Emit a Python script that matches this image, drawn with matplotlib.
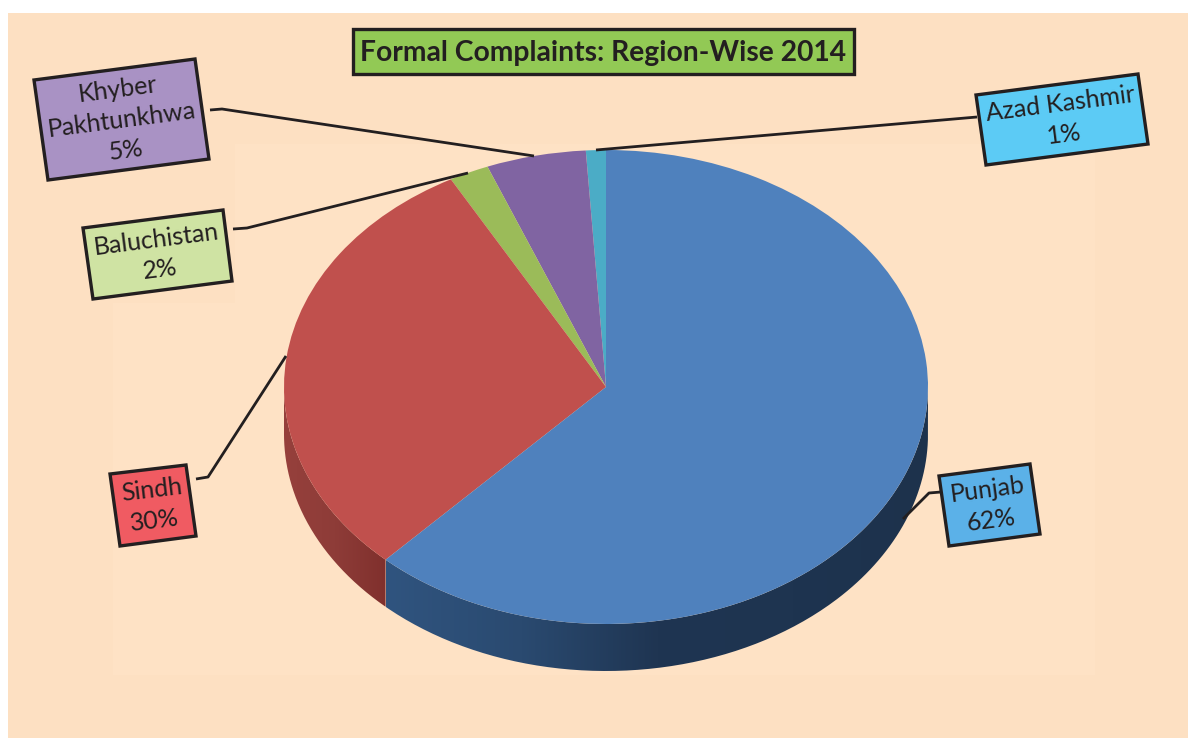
import numpy as np
import matplotlib
matplotlib.use('Agg')
import matplotlib.pyplot as plt
from matplotlib.colors import LinearSegmentedColormap
from matplotlib.path import Path
from matplotlib.patches import Polygon, Rectangle

# Data, in pie order (counter-clockwise from 12 o'clock)
regions = ['Azad Kashmir', 'Khyber\nPakhtunkhwa', 'Baluchistan', 'Sindh', 'Punjab']
shares = [1, 5, 2, 30, 62]
title = 'Formal Complaints: Region-Wise 2014'

top_colors = ['#4BACC6', '#8064A2', '#9BBB59', '#C0504D', '#4F81BD']
box_colors = ['#5CCBF5', '#A992C4', '#CFE3A3', '#F05B62', '#5BB1E8']
side_ramps = {
    'Sindh': ['#96403C', '#8E3C38', '#80302D'],
    'Punjab': ['#30547F', '#2A4A70', '#1F3552', '#1E3450', '#1D324C'],
}

W, H = 1188, 738
BG = '#FDE0C2'
BG_INNER = '#FEE2C5'
INK = '#231F20'
CX, CY, RX, RY, DEPTH = 606, 387, 322, 237, 47

# Corners of the tilted label boxes, in image pixels
box_corners = {
    'Azad Kashmir': [(976, 95), (1138, 74), (1148, 144), (986, 165)],
    'Khyber\nPakhtunkhwa': [(34, 80), (195, 59), (209, 159), (48, 180)],
    'Baluchistan': [(83, 228), (223, 210), (232, 281), (93, 299)],
    'Sindh': [(110, 474), (186, 465), (196, 536), (120, 546)],
    'Punjab': [(939, 476), (1030, 464), (1040, 534), (949, 546)],
}
leaders = {
    'Azad Kashmir': [(977, 117), (596, 150)],
    'Khyber\nPakhtunkhwa': [(210, 110), (222, 109), (534, 156)],
    'Baluchistan': [(233, 229), (247, 228), (468, 173)],
    'Sindh': [(196, 479), (208, 477), (286, 356)],
    'Punjab': [(941, 492), (929, 493), (903, 519)],
}

fig = plt.figure(figsize=(W / 100, H / 100), dpi=100, facecolor='white')

# Background, in pixel coordinates
bg = fig.add_axes([0, 0, 1, 1], zorder=0)
bg.set_xlim(0, W)
bg.set_ylim(H, 0)
bg.axis('off')
bg.add_patch(Rectangle((8, 13), W - 8, H - 13, fc=BG, ec='none'))
bg.add_patch(Rectangle((113, 303), 982, 372, fc=BG_INNER, ec='none'))
bg.add_patch(Rectangle((235, 144), 860, 160, fc=BG_INNER, ec='none'))

# Pie axes: one data unit is the ellipse radius, so the pie is squashed
ax = fig.add_axes([0, 0, 1, 1], zorder=1)
ax.patch.set_alpha(0)
wedges, _ = ax.pie(shares, colors=top_colors, startangle=90, counterclock=True,
                   wedgeprops={'linewidth': 0, 'zorder': 3})

# Extruded rim for the wedges facing the viewer
d = DEPTH / RY
for wedge, name in zip(wedges, regions):
    if name not in side_ramps:
        continue
    t1 = max(wedge.theta1 % 360, 180)
    t2 = wedge.theta2 % 360 or 360
    t2 = 360 if t2 < t1 else t2
    t = np.radians(np.linspace(t1, t2, 200))
    x, y = np.cos(t), np.sin(t)
    poly = np.vstack([np.column_stack([x, y]),
                      np.column_stack([x[::-1], y[::-1] - d])])
    cmap = LinearSegmentedColormap.from_list(name, side_ramps[name])
    grad = np.linspace(0, 1, 256).reshape(1, -1)
    im = ax.imshow(grad, cmap=cmap, aspect='auto', zorder=2,
                   extent=(x.min(), x.max(), -1 - d, 0.1))
    im.set_clip_path(Path(poly), transform=ax.transData)

ax.set_aspect('auto')
ax.set_position([0, 0, 1, 1])
ax.set_xlim(-CX / RX, (W - CX) / RX)
ax.set_ylim((CY - H) / RY, CY / RY)
ax.axis('off')

# Labels and title, in pixel coordinates
top = fig.add_axes([0, 0, 1, 1], zorder=2)
top.set_xlim(0, W)
top.set_ylim(H, 0)
top.axis('off')
top.patch.set_alpha(0)

for name, share, color in zip(regions, shares, box_colors):
    pts = np.array(box_corners[name])
    top.add_patch(Polygon(pts, closed=True, fc=color, ec=INK, lw=2.4, joinstyle='miter'))
    line = np.array(leaders[name])
    top.plot(line[:, 0], line[:, 1], color=INK, lw=2, solid_capstyle='butt')
    angle = np.degrees(np.arctan2(pts[0, 1] - pts[1, 1], pts[1, 0] - pts[0, 0]))
    top.text(pts[:, 0].mean(), pts[:, 1].mean(), f'{name}\n{share}%', rotation=angle,
             rotation_mode='anchor', ha='center', va='center', multialignment='center',
             family='Lato', fontsize=18, color=INK, linespacing=1.4)

top.add_patch(Rectangle((353, 29), 501, 45, fc='#92C955', ec=INK, lw=2.4))
top.text(603.5, 53.5, title, ha='center', va='center', family='Lato', weight='bold',
         fontsize=20.3, color=INK)

fig.savefig('out.png', dpi=100)
